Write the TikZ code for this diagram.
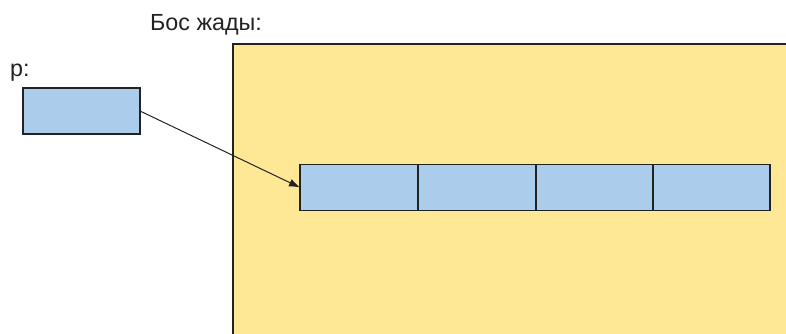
\documentclass[tikz,border=0pt]{standalone}
\usepackage{fontspec}
\setmainfont{Liberation Sans}
\usetikzlibrary{arrows.meta}
\definecolor{heap}{HTML}{FEE895}
\definecolor{cell}{HTML}{ABCDEB}
\definecolor{edge}{HTML}{222222}
\tikzset{
  cellbox/.style={draw=edge, fill=cell, line width=1.2pt, minimum width=117pt, minimum height=46pt, inner sep=0pt, outer sep=0pt},
  lbl/.style={font=\fontsize{23.3}{27}\selectfont, text=edge, inner sep=0pt, anchor=base west},
}
\begin{document}
\begin{tikzpicture}[x=1pt,y=-1pt]
\useasboundingbox (0,0) rectangle (786,334);
\fill[heap] (233,44) rectangle (790,340);
\draw[edge, line width=1.2pt] (233,340) -- (233,44) -- (790,44);
\node[lbl] (heaplbl) at (150,31) {Бос жады:};
\node[lbl] (plbl) at (10,77) {p:};
\node[cellbox] (p) at (81.5,111) {};
\node[cellbox, minimum width=118pt] (c1) at (359,187.5) {};
\node[cellbox, minimum width=118pt] (c2) at (477,187.5) {};
\node[cellbox, minimum width=117pt] (c3) at (594.5,187.5) {};
\node[cellbox, minimum width=117pt] (c4) at (711.5,187.5) {};
\draw[edge, line width=1pt, -{Latex[length=11pt,width=8pt]}] (p.east) -- (c1.west);
\end{tikzpicture}
\end{document}
